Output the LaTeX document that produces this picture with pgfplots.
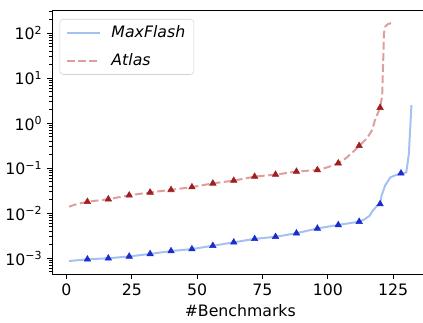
\documentclass[border=0pt]{standalone}
\usepackage{fontspec}
\setmainfont{DejaVu Sans}
\usepackage{pgfplots}
\pgfplotsset{compat=1.18}
\definecolor{mfline}{RGB}{165,193,242}
\definecolor{mfmark}{RGB}{25,45,205}
\definecolor{atline}{RGB}{222,158,158}
\definecolor{atmark}{RGB}{160,30,30}

\pgfplotstableread{
x y
1 8.7e-4
8 9.5e-4
16 1.0e-3
24 1.1e-3
32 1.25e-3
40 1.45e-3
48 1.6e-3
56 1.9e-3
64 2.26e-3
72 2.7e-3
80 3.0e-3
88 3.6e-3
96 4.6e-3
104 5.5e-3
112 6.5e-3
114 7.3e-3
116 8.8e-3
117 1.1e-2
119 1.5e-2
120 1.6e-2
120.6 2.5e-2
122 4.2e-2
124 6.3e-2
126 7.0e-2
128 7.7e-2
130 8.0e-2
131 0.2
132 2.5
}\maxflashline

\pgfplotstableread{
x y
8 9.5e-4
16 1.0e-3
24 1.1e-3
32 1.25e-3
40 1.45e-3
48 1.6e-3
56 1.9e-3
64 2.26e-3
72 2.7e-3
80 3.0e-3
88 3.6e-3
96 4.6e-3
104 5.5e-3
112 6.5e-3
120 1.6e-2
128 7.7e-2
}\maxflashmarks

\pgfplotstableread{
x y
1 1.4e-2
4 1.6e-2
8 1.8e-2
16 2.05e-2
24 2.5e-2
32 2.9e-2
40 3.3e-2
48 3.8e-2
56 4.6e-2
64 5.3e-2
72 6.5e-2
80 7.2e-2
88 8.4e-2
96 9.1e-2
100 0.105
104 0.129
107 0.167
110 0.24
112 0.313
115 0.46
117 0.71
118 1.15
120 2.2
120.8 4
121.5 100
122 140
123 158
124.5 167
}\atlasline

\pgfplotstableread{
x y
8 1.8e-2
16 2.05e-2
24 2.5e-2
32 2.9e-2
40 3.3e-2
48 3.8e-2
56 4.6e-2
64 5.3e-2
72 6.5e-2
80 7.2e-2
88 8.4e-2
96 9.1e-2
104 0.129
112 0.313
120 2.2
}\atlasmarks

\begin{document}
\begin{tikzpicture}
\begin{axis}[
  scale only axis, width=282.4pt, height=198pt,
  at={(0pt,0pt)}, anchor=south west,
  ymode=log,
  xmin=-5.55, xmax=138.55, ymin=4.48e-4, ymax=324,
  font=\fontsize{11.8}{14}\selectfont,
  xtick={0,25,50,75,100,125},
  ytick={1e-3,1e-2,1e-1,1,10,100},
  yticklabels={10\textsuperscript{−3},10\textsuperscript{−2},10\textsuperscript{−1},10\textsuperscript{0},10\textsuperscript{1},10\textsuperscript{2}},
  minor ytick={5e-4,6e-4,7e-4,8e-4,9e-4,
    2e-3,3e-3,4e-3,5e-3,6e-3,7e-3,8e-3,9e-3,
    2e-2,3e-2,4e-2,5e-2,6e-2,7e-2,8e-2,9e-2,
    0.2,0.3,0.4,0.5,0.6,0.7,0.8,0.9,
    2,3,4,5,6,7,8,9,
    20,30,40,50,60,70,80,90,200,300},
  tick pos=left, tick align=outside,
  major tick length=3.7pt, minor tick length=2.1pt,
  every tick/.style={black, line width=0.6pt},
  axis line style={line width=0.6pt},
  xlabel={\#Benchmarks},
  /pgf/number format/assume math mode=true,
  legend cell align=left,
  legend style={at={(0.02,0.966)}, anchor=north west, draw=gray!35, rounded corners=2.5pt,
    fill=white, font=\fontsize{11.8}{14}\selectfont\itshape, row sep=6.5pt, column sep=6pt,
    inner xsep=4.5pt, inner ysep=3pt},
  legend image code/.code={\draw[#1] (0pt,0pt) -- (24.75pt,0pt);},
]
\addplot[mfline, line width=1.5pt] table {\maxflashline};
\addlegendentry{MaxFlash}
\addplot[only marks, mark=triangle*, mark size=2.8pt, mfmark, forget plot] table {\maxflashmarks};
\addplot[atline, line width=1.5pt, dash pattern=on 5.8pt off 2.6pt] table {\atlasline};
\addlegendentry{Atlas}
\addplot[only marks, mark=triangle*, mark size=2.8pt, atmark, forget plot] table {\atlasmarks};
\end{axis}
\pgfresetboundingbox
\path (-39pt,-36pt) rectangle (278.25pt,205.5pt);
\end{tikzpicture}
\end{document}
